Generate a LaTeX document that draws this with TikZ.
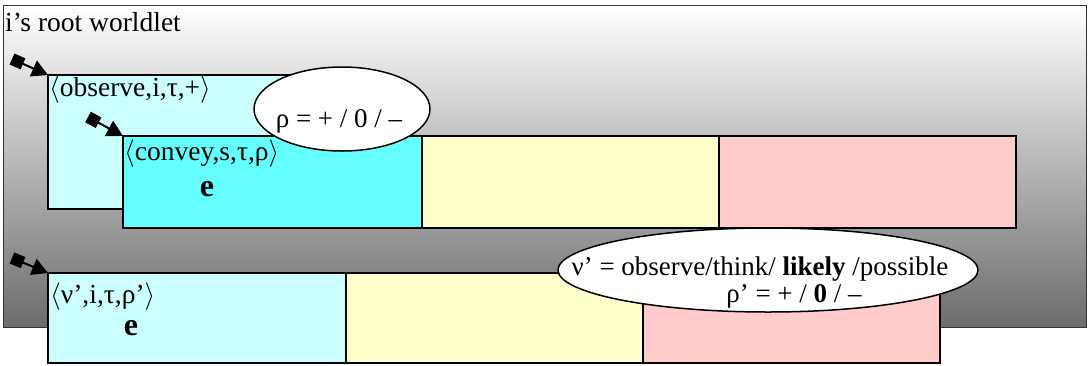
\RequirePackage{fix-cm}
\documentclass[tikz,border=0pt]{standalone}
\usepackage{fontspec}
\setmainfont{Liberation Serif}
\usetikzlibrary{arrows.meta,shapes.geometric}
\definecolor{lcyan}{HTML}{CCFFFF}
\definecolor{dcyan}{HTML}{66FFFF}
\definecolor{lyellow}{HTML}{FFFFCC}
\definecolor{lpink}{HTML}{FFCCCC}
\definecolor{dgray}{RGB}{108,108,108}
\begin{document}
\begin{tikzpicture}[x=1pt,y=-1pt,
  box/.style={draw=black, line width=2pt, anchor=north west, inner sep=0pt, outer sep=0pt},
  bubble/.style={ellipse, draw=black, fill=white, line width=1.5pt, inner sep=0pt},
  lbl/.style={anchor=base west, inner sep=0pt, font=\fontsize{27.5}{32}\selectfont},
  ctr/.style={anchor=base, inner sep=0pt, font=\fontsize{27}{32}\selectfont},
  bigE/.style={anchor=base, inner sep=0pt, font=\fontsize{32}{36}\selectfont\bfseries},
  link/.style={line width=2pt, {Square[length=12pt,width=12pt]}-{Triangle[length=16pt,width=17pt]}}
]
\useasboundingbox (0,0) rectangle (1089,365);
% root worldlet
\node[draw=black!80, line width=1.2pt, top color=white, bottom color=dgray, anchor=north west,
      minimum width=1083pt, minimum height=322pt, inner sep=0pt] (root) at (3,5) {};
\node[lbl] (rootlbl) at (5,31) {i’s root worldlet};
% observe worldlet
\node[box, fill=lcyan, minimum width=297pt, minimum height=134pt] (obs) at (48,75) {};
\node[lbl] (obslbl) at (49,96) {$\langle$observe,i,τ,+$\rangle$};
% convey row
\node[box, fill=dcyan, minimum width=299pt, minimum height=92pt] (c1) at (123,136) {};
\node[box, fill=lyellow, minimum width=297pt, minimum height=92pt] (c2) at (422,136) {};
\node[box, fill=lpink, minimum width=297pt, minimum height=92pt] (c3) at (719,136) {};
\node[lbl] (c1lbl) at (124,160) {$\langle$convey,s,τ,ρ$\rangle$};
\node[bigE] (c1e) at (207,196) {e};
% bubble rho
\node[bubble, minimum width=176pt, minimum height=84pt] (b1) at (342,109) {};
\node[ctr] (b1lbl) at (339,127) {ρ = + / 0 / –};
% bottom row
\node[box, fill=lcyan, minimum width=298pt, minimum height=90pt] (d1) at (48,273) {};
\node[box, fill=lyellow, minimum width=297pt, minimum height=90pt] (d2) at (346,273) {};
\node[box, fill=lpink, minimum width=297pt, minimum height=90pt] (d3) at (643,273) {};
\node[lbl] (d1lbl) at (50,303) {$\langle$ν’,i,τ,ρ’$\rangle$};
\node[bigE] (d1e) at (131,335) {e};
% bubble nu
\node[bubble, minimum width=420pt, minimum height=84pt] (b2) at (768,270) {};
\node[ctr] (b2l1) at (760,275) {ν’ = observe/think/ \textbf{likely} /possible};
\node[ctr] (b2l2) at (794,302) {ρ’ = + / \textbf{0} / –};
% links
\coordinate (s1) at (12,59);
\coordinate (s2) at (88,117);
\coordinate (s3) at (12,258);
\draw[link] (s1) -- (obs.north west);
\draw[link] (s2) -- (c1.north west);
\draw[link] (s3) -- (d1.north west);
\end{tikzpicture}
\end{document}
